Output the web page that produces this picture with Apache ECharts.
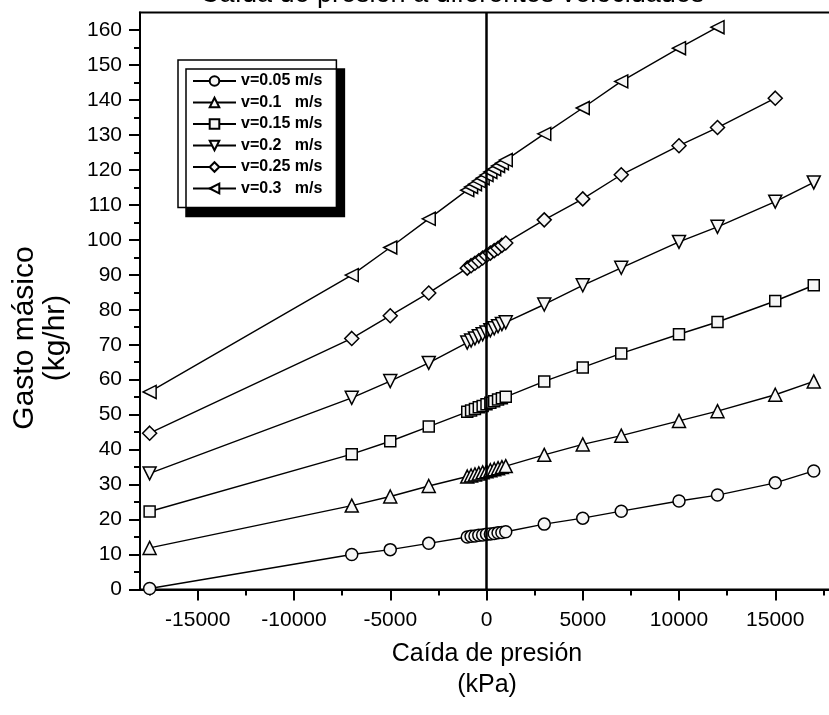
<!DOCTYPE html>
<html>
<head>
<meta charset="utf-8">
<script src="https://cdn.jsdelivr.net/npm/echarts@6/dist/echarts.min.js"></script>
<style>html,body{margin:0;padding:0;background:#fff;}#c{width:829px;height:715px;}</style>
</head>
<body>
<div id="c"></div>
<script>
// Pressure drop (kPa) sample points
const pressure = [-17500,-7000,-5000,-3000,-1000,-800,-600,-400,-200,0,200,400,600,800,1000,3000,5000,7000,10000,12000,15000,17000];
// Mass flow (kg/hr) per velocity
const v005 = [0.3,10.0,11.4,13.2,15.0,15.2,15.3,15.5,15.6,15.8,15.9,16.0,16.2,16.3,16.5,18.7,20.4,22.4,25.3,27.0,30.5,33.9];
const v01  = [11.9,24.0,26.6,29.6,32.3,32.6,32.9,33.2,33.5,33.8,34.1,34.4,34.7,35.0,35.3,38.5,41.5,44.0,48.2,51.0,55.7,59.5];
const v015 = [22.3,38.7,42.4,46.6,50.8,51.2,51.6,52.1,52.5,53.0,53.4,53.8,54.3,54.7,55.1,59.5,63.5,67.5,73.0,76.5,82.5,87.0];
const v02  = [33.2,54.8,59.6,64.8,70.6,71.2,71.8,72.4,73.0,73.5,74.1,74.7,75.3,75.9,76.4,81.5,87.0,92.0,99.4,103.7,110.9,116.4];
const v025 = [44.7,71.8,78.3,84.8,91.9,92.6,93.3,94.0,94.8,95.5,96.2,96.9,97.6,98.4,99.1,105.7,111.7,118.6,126.9,132.1,140.5];
const v03  = [56.5,89.9,97.8,106.0,114.2,115.1,115.9,116.8,117.6,118.5,119.4,120.2,121.1,121.9,122.8,130.3,137.7,145.3,154.8,160.8];
const seriesNames = ['v=0.05 m/s','v=0.1   m/s','v=0.15 m/s','v=0.2   m/s','v=0.25 m/s','v=0.3   m/s'];
const xMajorTicks = [-15000,-10000,-5000,0,5000,10000,15000];
const xMinorTicks = [-17500,-12500,-7500,-2500,2500,7500,12500,17500];
const yMajorTicks = [0,10,20,30,40,50,60,70,80,90,100,110,120,130,140,150,160];
const yMinorTicks = [5,15,25,35,45,55,65,75,85,95,105,115,125,135,145,155];

const FONT = "'Liberation Sans', Arial, sans-serif";
const allY = [v005, v01, v015, v02, v025, v03];
const symbols = ['circle','triangle','rect','triangle','diamond','triangle'];
const rotates = [0,0,0,180,0,90];
const sizes = [12,13,11,13,14,13];

const chart = echarts.init(document.getElementById('c'), null, {renderer:'canvas'});
const series = allY.map((ys, k) => ({
  name: seriesNames[k],
  type: 'line',
  xAxisIndex: 0, yAxisIndex: 0,
  data: ys.map((y, i) => [pressure[i], y]),
  symbol: symbols[k],
  symbolRotate: rotates[k],
  symbolSize: sizes[k],
  showAllSymbol: true,
  clip: false,
  lineStyle: {color:'#000', width:1.4},
  itemStyle: {color:'#f6f6f6', borderColor:'#000', borderWidth:1.5},
  emphasis: {disabled:true},
  animation: false,
  z: 3
}));
series[0].markLine = {
  silent: true, symbol: ['none','none'], label:{show:false},
  lineStyle:{color:'#000', width:2.5, type:'solid'},
  data: [{xAxis: 0}], animation:false
};

const fmt = v => String(v);
const axisCommon = {
  type:'value', min:-18000, max:20000, splitLine:{show:false}
};
chart.setOption({
  animation:false,
  backgroundColor:'#fff',
  title: {
    text:'Caída de presión a diferentes velocidades',
    left: 200, top: -19, padding: 0,
    textStyle:{fontFamily:FONT, fontSize:27, fontWeight:'normal', color:'#000'}
  },
  grid: {left:140, top:12.5, width:731.5, height:577, outerBoundsMode:'none', containLabel:false,
         show:true, borderColor:'#000', borderWidth:2, backgroundColor:'transparent'},
  legend: {
    orient:'vertical', left:178, top:60,
    padding:[13,14,11,14],
    itemWidth:43, itemHeight:12, itemGap:5.5,
    backgroundColor:'#fff', borderColor:'#000', borderWidth:1.5,
    shadowColor:'#000', shadowBlur:0, shadowOffsetX:8, shadowOffsetY:9,
    textStyle:{fontFamily:FONT, fontSize:16, fontWeight:'bold', color:'#000'},
    data: seriesNames
  },
  xAxis: [
    Object.assign({}, axisCommon, {
      position:'bottom',
      axisLine:{show:true, onZero:false, lineStyle:{color:'#000', width:2}},
      axisTick:{show:true, inside:false, length:11, lineStyle:{color:'#000', width:2}, customValues:xMajorTicks},
      axisLabel:{show:true, margin:20, fontFamily:FONT, fontSize:21, color:'#000', customValues:xMajorTicks, formatter:fmt}
    }),
    Object.assign({}, axisCommon, {
      position:'bottom',
      axisLine:{show:false, onZero:false},
      axisTick:{show:true, inside:false, length:6, lineStyle:{color:'#000', width:2}, customValues:xMinorTicks},
      axisLabel:{show:false}
    })
  ],
  yAxis: [
    {
      type:'value', min:0, max:165, position:'left', splitLine:{show:false},
      axisLine:{show:true, onZero:false, lineStyle:{color:'#000', width:2}},
      axisTick:{show:true, inside:false, length:11, lineStyle:{color:'#000', width:2}, customValues:yMajorTicks},
      axisLabel:{show:true, margin:18, fontFamily:FONT, fontSize:21, color:'#000', customValues:yMajorTicks, formatter:fmt}
    },
    {
      type:'value', min:0, max:165, position:'left', splitLine:{show:false},
      axisLine:{show:false, onZero:false},
      axisTick:{show:true, inside:false, length:6, lineStyle:{color:'#000', width:2}, customValues:yMinorTicks},
      axisLabel:{show:false}
    }
  ],
  graphic: [
    {type:'text', x:487, y:670, silent:true,
     style:{text:'Caída de presión\n(kPa)', fontFamily:FONT, fontSize:25, lineHeight:31, align:'center', verticalAlign:'middle', fill:'#000'}},
    {type:'text', x:40, y:338, rotation:Math.PI/2, silent:true,
     style:{text:'Gasto másico\n(kg/hr)', fontFamily:FONT, fontSize:30, lineHeight:31, align:'center', verticalAlign:'middle', fill:'#000'}}
  ],
  series: series
});
</script>
</body>
</html>
